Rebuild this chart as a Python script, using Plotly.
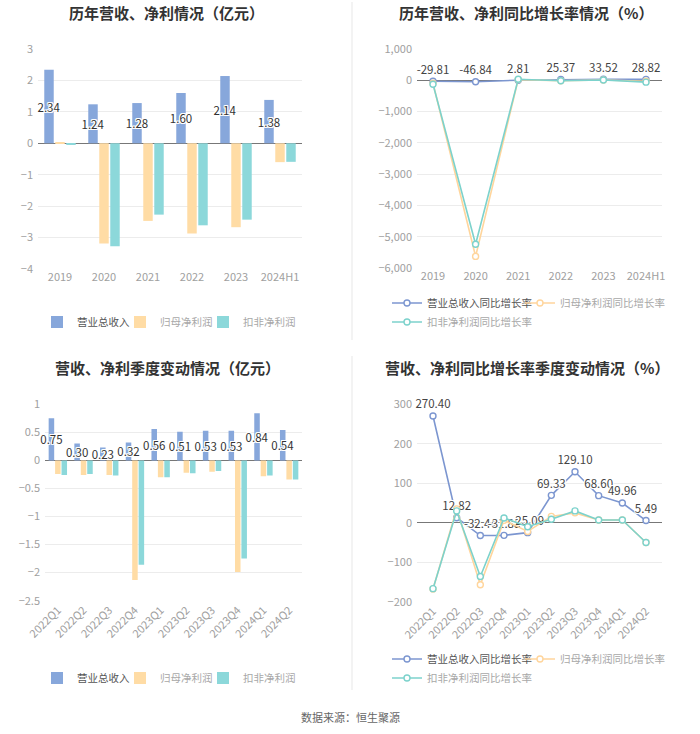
import plotly.graph_objects as go

# ---------------- data ----------------
years = ["2019", "2020", "2021", "2022", "2023", "2024H1"]
rev_year = [2.34, 1.24, 1.28, 1.60, 2.14, 1.38]
np_year = [0.03, -3.19, -2.47, -2.87, -2.67, -0.60]
kf_year = [-0.04, -3.28, -2.27, -2.61, -2.43, -0.59]

rev_year_g = [-29.81, -46.84, 2.81, 25.37, 33.52, 28.82]
np_year_g = [-95, -5630, 22, -16, 7, -30]
kf_year_g = [-128, -5240, 31, -15, 7, -60]

quarters = ["2022Q1", "2022Q2", "2022Q3", "2022Q4", "2023Q1",
            "2023Q2", "2023Q3", "2023Q4", "2024Q1", "2024Q2"]
rev_q = [0.75, 0.30, 0.23, 0.32, 0.56, 0.51, 0.53, 0.53, 0.84, 0.54]
np_q = [-0.24, -0.26, -0.26, -2.13, -0.30, -0.22, -0.20, -1.99, -0.28, -0.34]
kf_q = [-0.26, -0.24, -0.27, -1.86, -0.30, -0.23, -0.19, -1.75, -0.27, -0.34]

rev_q_g = [270.40, 12.82, -32.44, -31.88, -25.09, 69.33, 129.10, 68.60, 49.96, 5.49]
np_q_g = [-168, 35, -157, 6, -22, 16, 25, 7, 7, -50]
kf_q_g = [-167, 30, -136, 12, -10, 9, 30, 7, 7, -50]

names_bar = ["营业总收入", "归母净利润", "扣非净利润"]
names_line = ["营业总收入同比增长率", "归母净利润同比增长率", "扣非净利润同比增长率"]

# ---------------- style ----------------
FONT = "Noto Sans CJK SC"
C_REV = "#87A7DB"
C_NP = "#FFDCA5"
C_KF = "#8CD8DA"
L_REV = "#7C96D0"
L_NP = "#FFD59C"
L_KF = "#7CD2CC"
GRID = "#ECECEC"
TICK = "#A0A0A0"
OUTLINE = ("1px 1px 0 #fff, -1px -1px 0 #fff, 1px -1px 0 #fff, -1px 1px 0 #fff, "
           "0 1px 0 #fff, 0 -1px 0 #fff, 1px 0 0 #fff, -1px 0 0 #fff")
W, H = 700, 734
BAR_LW = [38, 38, 70]
LINE_LW = [88, 120, 120]


def light(name):
    return "<span style='color:#A8A8A8'>" + name + "</span>"


fig = go.Figure()


def add_bars(xs, series, xa, ya, leg):
    for i, (vals, nm, col) in enumerate(series):
        kw = {}
        if i == 0:
            kw = dict(text=[f"{v:.2f}" for v in vals], textposition="inside",
                      insidetextanchor="middle", constraintext="none", textangle=0,
                      insidetextfont=dict(size=11.5, color="#333", family=FONT,
                                          shadow=OUTLINE),
                      cliponaxis=False)
        fig.add_trace(go.Bar(x=xs, y=vals, name=nm if i == 0 else light(nm),
                             marker=dict(color=col, line=dict(width=0)),
                             legendwidth=BAR_LW[i],
                             xaxis=xa, yaxis=ya, legend=leg, hoverinfo="skip", **kw))


add_bars(years, [(rev_year, names_bar[0], C_REV),
                 (np_year, names_bar[1], C_NP),
                 (kf_year, names_bar[2], C_KF)], "x", "y", "legend")
add_bars(quarters, [(rev_q, names_bar[0], C_REV),
                    (np_q, names_bar[1], C_NP),
                    (kf_q, names_bar[2], C_KF)], "x3", "y3", "legend4")


# ---- line charts ----
def add_lines(xs, series, xa, ya, leg_row1, leg_row2):
    for k, (vals, nm, col) in enumerate(series):
        fig.add_trace(go.Scatter(
            x=xs, y=vals, name=nm if k == 0 else light(nm),
            mode="lines+markers+text" if k == 0 else "lines+markers",
            text=[f"{v:.2f}" for v in vals] if k == 0 else None,
            textposition="top center",
            textfont=dict(size=11.5, color="#444", family=FONT, shadow=OUTLINE),
            line=dict(color=col, width=1.6),
            marker=dict(symbol="circle", size=6, color="white",
                        line=dict(color=col, width=1.4)),
            legendwidth=LINE_LW[k],
            xaxis=xa, yaxis=ya, legend=leg_row1 if k < 2 else leg_row2,
            hoverinfo="skip", cliponaxis=False))


add_lines(years, [(rev_year_g, names_line[0], L_REV),
                  (np_year_g, names_line[1], L_NP),
                  (kf_year_g, names_line[2], L_KF)], "x2", "y2", "legend2", "legend3")
add_lines(quarters, [(rev_q_g, names_line[0], L_REV),
                     (np_q_g, names_line[1], L_NP),
                     (kf_q_g, names_line[2], L_KF)], "x4", "y4", "legend5", "legend6")


def px_x(p):
    return p / W


def py_y(p):
    return 1 - p / H


def xax(l, r, anchor, angle=0):
    return dict(domain=[px_x(l), px_x(r)], type="category", showgrid=False,
                showline=False, zeroline=False, ticks="", anchor=anchor,
                tickfont=dict(size=11, color=TICK, family=FONT),
                tickangle=angle, fixedrange=True, automargin=False)


def yax(t, b, rng, dtick, anchor, fmt=None):
    d = dict(domain=[py_y(b), py_y(t)], range=rng, dtick=dtick, anchor=anchor,
             showgrid=True, gridcolor=GRID, gridwidth=1, zeroline=True,
             zerolinecolor="#777", zerolinewidth=1, showline=False,
             tickfont=dict(size=11, color=TICK, family=FONT),
             ticklabelstandoff=4, fixedrange=True, automargin=False)
    if fmt:
        d["tickformat"] = fmt
    return d


def legend(xpix, ypix):
    return dict(orientation="h", x=px_x(xpix), y=py_y(ypix), xanchor="left",
                yanchor="middle", entrywidthmode="pixels",
                font=dict(size=10.5, color="#555", family=FONT),
                bgcolor="rgba(0,0,0,0)", itemclick=False, itemdoubleclick=False,
                tracegroupgap=0)


titles = [
    ("历年营收、净利情况（亿元）", 166, 13),
    ("历年营收、净利同比增长率情况（%）", 526, 13),
    ("营收、净利季度变动情况（亿元）", 167, 367),
    ("营收、净利同比增长率季度变动情况（%）", 527, 367),
]
annotations = [dict(text=f"<b>{t}</b>", x=px_x(xc), y=py_y(yc), xref="paper", yref="paper",
                    xanchor="center", yanchor="middle", showarrow=False,
                    font=dict(size=15, color="#333", family=FONT))
               for t, xc, yc in titles]
annotations.append(dict(text="数据来源：恒生聚源", x=0.5, y=py_y(717), xref="paper", yref="paper",
                        xanchor="center", yanchor="middle", showarrow=False,
                        font=dict(size=11, color="#666", family=FONT)))

shapes = [
    dict(type="line", xref="paper", yref="paper", x0=px_x(352), x1=px_x(352),
         y0=py_y(2), y1=py_y(340), line=dict(color="#F3F3F3", width=2)),
    dict(type="line", xref="paper", yref="paper", x0=px_x(352), x1=px_x(352),
         y0=py_y(356), y1=py_y(690), line=dict(color="#F3F3F3", width=2)),
]

fig.update_layout(
    width=W, height=H, margin=dict(l=0, r=0, t=0, b=0, autoexpand=False),
    paper_bgcolor="white", plot_bgcolor="white",
    font=dict(family=FONT),
    barmode="group", bargap=0.25, bargroupgap=0.14,
    xaxis=xax(38, 302, "y"), yaxis=yax(49, 269, [-4, 3], 1, "x"),
    xaxis2=xax(417, 662, "y2"),
    yaxis2=yax(49, 268, [-6000, 1000], 1000, "x2", ",d"),
    xaxis3=xax(45, 302, "y3", -45),
    yaxis3=yax(404.3, 600.7, [-2.5, 1], 0.5, "x3"),
    xaxis4=xax(417, 662, "y4", -45),
    yaxis4=yax(404.3, 601.7, [-200, 300], 100, "x4"),
    legend=legend(37, 322),
    legend2=legend(387, 303),
    legend3=legend(387, 322),
    legend4=legend(37, 678),
    legend5=legend(387, 659),
    legend6=legend(387, 678),
    annotations=annotations, shapes=shapes,
    hovermode=False, showlegend=True,
)

fig.write_html("out.html")
